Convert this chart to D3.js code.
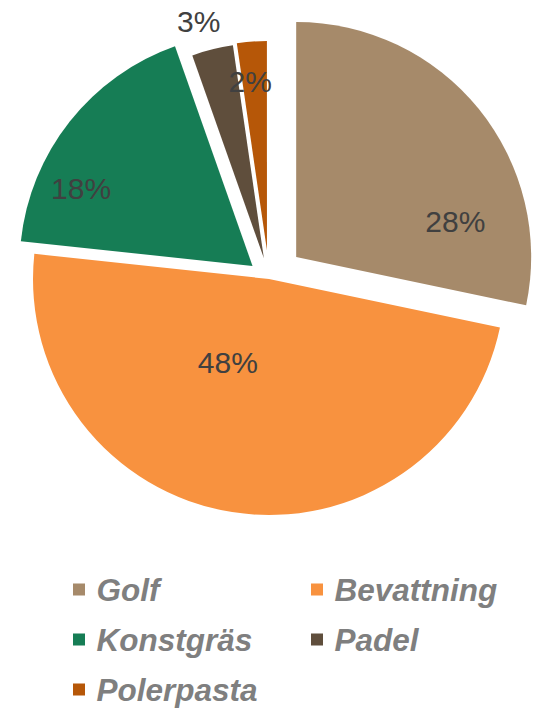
<!DOCTYPE html>
<html>
<head>
<meta charset="utf-8">
<script src="https://cdn.jsdelivr.net/npm/d3@7"></script>
<style>
  body { margin: 0; background: #fff; }
  svg text { font-family: "Liberation Sans", Arial, sans-serif; }
</style>
</head>
<body>
<div id="chart"></div>
<script>
const categories = ["Golf", "Bevattning", "Konstgräs", "Padel", "Polerpasta"];
const values = [28.3, 48.4, 17.9, 3.1, 2.3];
const labels = ["28%", "48%", "18%", "3%", "2%"];
const colors = ["#A68A6A", "#F8923F", "#167D55", "#5F4E3C", "#B65708"];

// per-slice layout (explode distance, outer radius, label angle in deg, label distance)
const explode = [35, 0, 21, 21.5, 29];
const radii = [235, 236, 233, 215, 209];
const labelAngle = [77.6, 206.3, 294.2, 344.6, 354.3];
const labelDist = [163, 93, 188, 245, 169];

const width = 542, height = 709;
const cx = 269, cy = 279;

const svg = d3.select("#chart")
  .append("svg")
  .attr("width", width)
  .attr("height", height);

const data = categories.map((c, i) => ({ name: c, value: values[i], i }));

const pie = d3.pie()
  .sort(null)
  .value(d => d.value)
  .startAngle(0)
  .endAngle(2 * Math.PI);

const arcs = pie(data);

const g = svg.append("g").attr("transform", `translate(${cx},${cy})`);

const slice = g.selectAll("g.slice")
  .data(arcs)
  .join("g")
  .attr("class", "slice")
  .attr("transform", d => {
    const mid = (d.startAngle + d.endAngle) / 2;
    const e = explode[d.data.i];
    return `translate(${Math.sin(mid) * e},${-Math.cos(mid) * e})`;
  });

slice.append("path")
  .attr("d", d => d3.arc().innerRadius(0).outerRadius(radii[d.data.i])(d))
  .attr("fill", d => colors[d.data.i]);

slice.append("text")
  .attr("x", d => Math.sin(labelAngle[d.data.i] * Math.PI / 180) * labelDist[d.data.i])
  .attr("y", d => -Math.cos(labelAngle[d.data.i] * Math.PI / 180) * labelDist[d.data.i])
  .attr("dy", "0.35em")
  .attr("text-anchor", "middle")
  .style("font-size", "30px")
  .style("fill", "#404040")
  .text(d => labels[d.data.i]);

// legend
const legendCols = [73, 311];
const legendRows = [601, 651, 701];

const legend = svg.selectAll("g.legend")
  .data(categories)
  .join("g")
  .attr("class", "legend")
  .attr("transform", (d, i) => `translate(${legendCols[i % 2]},${legendRows[Math.floor(i / 2)]})`);

legend.append("rect")
  .attr("x", 0)
  .attr("y", -17.5)
  .attr("width", 12)
  .attr("height", 12)
  .attr("fill", (d, i) => colors[i]);

legend.append("text")
  .attr("x", 23.5)
  .attr("y", 0)
  .style("font-size", "31.5px")
  .style("font-weight", "bold")
  .style("font-style", "italic")
  .style("fill", "#7F7F7F")
  .text(d => d);
</script>
</body>
</html>
